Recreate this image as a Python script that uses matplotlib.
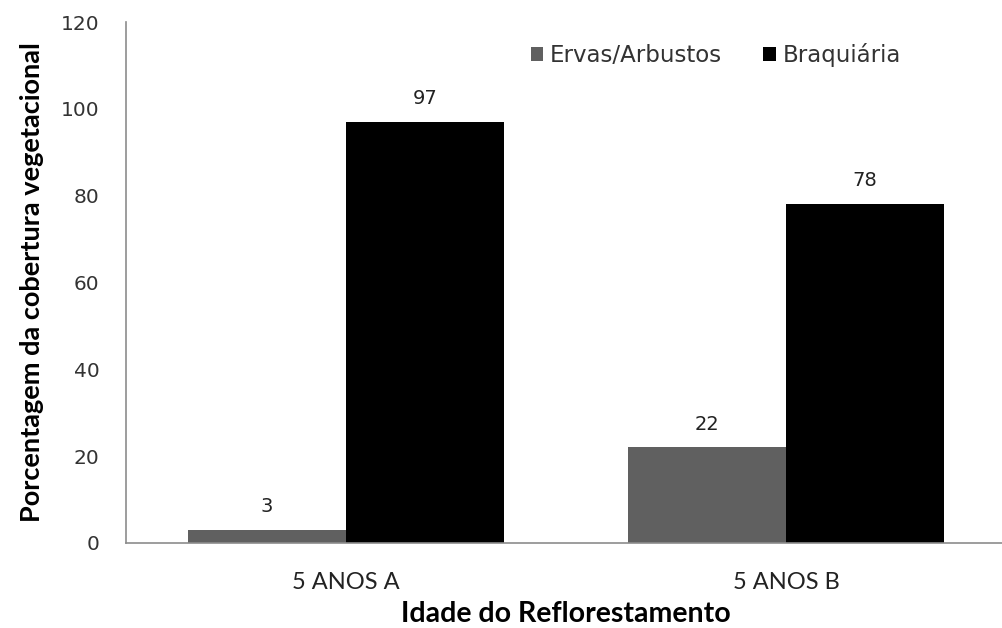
import matplotlib.pyplot as plt
import numpy as np

categorias = ["5 ANOS A", "5 ANOS B"]
ervas = [3, 22]
braquiaria = [97, 78]
series = ["Ervas/Arbustos", "Braquiária"]
yticks = [0, 20, 40, 60, 80, 100, 120]

cores = ["#606060", "#000000"]
larg = 0.36

fig = plt.figure(figsize=(10.02, 6.28), dpi=100)
ax = fig.add_axes([126/1002, 85/628, 880/1002, 521/628])

x = np.arange(len(categorias))
for i, (nome, vals) in enumerate(zip(series, [ervas, braquiaria])):
    pos = x + (i - 0.5) * larg
    ax.bar(pos, vals, width=larg, color=cores[i], label=nome)
    for p, v in zip(pos, vals):
        ax.annotate(str(v), (p, v), xytext=(0, 10), textcoords="offset points",
                    ha="center", va="bottom", fontsize=14, color="#222222",
                    family="DejaVu Sans")

ax.set_xlim(-0.5, 1.5)
ax.set_ylim(0, 120)
ax.set_yticks(yticks)
ax.set_xticks(x)
ax.set_xticklabels(categorias, family="Lato", fontsize=17, color="#222222")
ax.tick_params(axis="y", length=0, pad=19, labelsize=14.5, labelcolor="#333333")
ax.tick_params(axis="x", length=0, pad=21)

for s in ["top", "right"]:
    ax.spines[s].set_visible(False)
for s in ["left", "bottom"]:
    ax.spines[s].set_color("#8c8c8c")
    ax.spines[s].set_linewidth(1.2)

ax.set_xlabel("Idade do Reflorestamento", family="Lato",
              fontweight="bold", fontsize=20.5, labelpad=6)
ax.set_ylabel("Porcentagem da cobertura vegetacional", family="Lato",
              fontweight="bold", fontsize=19.5, labelpad=12)

leg = fig.legend(loc="center left", bbox_to_anchor=(510/1002, 1 - 55/628), ncol=2,
                 frameon=False, handlelength=0.55, handleheight=0.55,
                 handletextpad=0.3, columnspacing=1.8, prop={"family": "DejaVu Sans", "size": 16.5})
for t in leg.get_texts():
    t.set_color("#333333")

fig.savefig("out.png", dpi=100)
